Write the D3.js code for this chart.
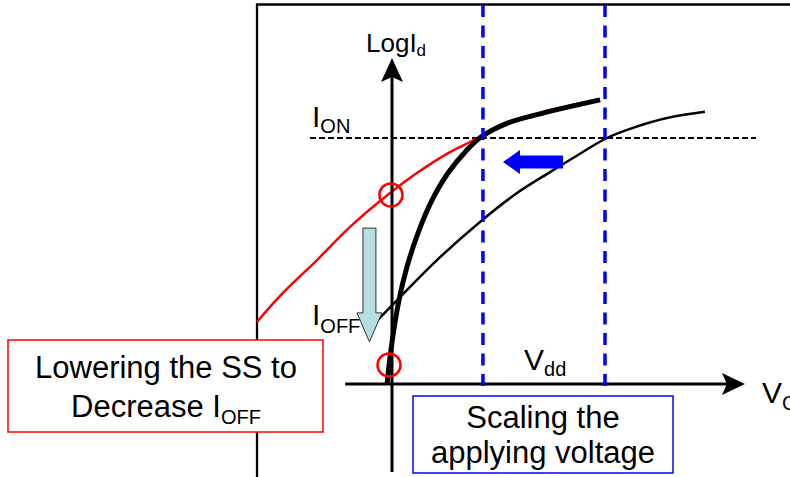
<!DOCTYPE html>
<html>
<head>
<meta charset="utf-8">
<script src="https://cdn.jsdelivr.net/npm/d3@7"></script>
<style>
  body { margin: 0; background: #fff; }
  svg { display: block; }
  text { font-family: "Liberation Sans", Arial, sans-serif; fill: #000; }
</style>
</head>
<body>
<script>
// x in units of the old Vdd, y in decades of Id above the axis
var steepCurve = [[-0.023,0],[-0.005,1.11],[0.033,2.73],[0.070,3.80],[0.122,4.91],[0.188,5.98],
  [0.263,6.86],[0.352,7.61],[0.418,8.03],[0.545,8.49],[0.709,8.81],[0.977,9.24]];
var redCurve = [[-0.634,2.02],[-0.512,2.96],[-0.352,4.03],[-0.197,5.11],[-0.009,6.21],[0.117,6.86],
  [0.272,7.54],[0.366,7.87],[0.418,8.07],[0.545,8.52],[0.709,8.85],[0.967,9.25]];
var oldCurve = [[-0.089,1.92],[0.047,2.89],[0.211,4.03],[0.413,5.27],[0.587,6.21],[0.742,6.89],
  [0.850,7.35],[1.009,8.00],[1.131,8.33],[1.291,8.65],[1.469,8.85]];
var vddLevels = [0.427, 1.0];
var ionLevel = 8;
var circles = [[-0.005,6.15],[-0.014,0.62]];
var shiftArrow = [0.803, 0.521, 7.22];   // from, to, level
var ioffArrow = [-0.106, 5.07, 1.37];    // x, from, to
var xAxisRange = [-0.22, 1.657];
var yAxisRange = [-2.86, 10.6];

var W = 790, H = 477;
var x = d3.scaleLinear().domain([0, 1]).range([392, 605]);
var y = d3.scaleLinear().domain([0, 8]).range([384, 138]);

var svg = d3.select("body").append("svg").attr("width", W).attr("height", H);

// frame
svg.append("path").attr("d", "M257," + H + " V4.5 H" + W)
  .attr("fill", "none").attr("stroke", "#000").attr("stroke-width", 2.3);

var line = d3.line().x(d => x(d[0])).y(d => y(d[1])).curve(d3.curveCatmullRom.alpha(0.5));

// Ion level
svg.append("line").attr("x1", 310).attr("x2", 756)
  .attr("y1", y(ionLevel)).attr("y2", y(ionLevel))
  .attr("stroke", "#000").attr("stroke-width", 2).attr("stroke-dasharray", "6,3");

svg.append("path").attr("d", line(redCurve)).attr("fill", "none")
  .attr("stroke", "#ff0000").attr("stroke-width", 2.5);
svg.append("path").attr("d", line(oldCurve)).attr("fill", "none")
  .attr("stroke", "#000").attr("stroke-width", 2.5);
svg.append("path").attr("d", line(steepCurve)).attr("fill", "none")
  .attr("stroke", "#000").attr("stroke-width", 5).attr("stroke-linecap", "butt");

// axes
var x0 = x(0), y0 = y(0);
var yTop = y(yAxisRange[1]), xEnd = x(xAxisRange[1]);
svg.append("line").attr("x1", x0).attr("x2", x0).attr("y1", y(yAxisRange[0])).attr("y2", yTop + 10)
  .attr("stroke", "#000").attr("stroke-width", 3);
svg.append("path").attr("d", "M" + x0 + "," + yTop + " L" + (x0 - 11) + "," + (yTop + 24) +
    " L" + x0 + "," + (yTop + 19) + " L" + (x0 + 11) + "," + (yTop + 24) + "Z").attr("fill", "#000");
svg.append("line").attr("x1", x(xAxisRange[0])).attr("x2", xEnd - 10).attr("y1", y0).attr("y2", y0)
  .attr("stroke", "#000").attr("stroke-width", 3);
svg.append("path").attr("d", "M" + xEnd + "," + y0 + " L" + (xEnd - 23) + "," + (y0 - 11) +
    " L" + (xEnd - 18) + "," + y0 + " L" + (xEnd - 23) + "," + (y0 + 11) + "Z").attr("fill", "#000");

// Vdd lines
svg.selectAll(".vdd").data(vddLevels).enter().append("line").attr("class", "vdd")
  .attr("x1", d => x(d)).attr("x2", d => x(d)).attr("y1", 5).attr("y2", y(-0.2))
  .attr("stroke", "#0000ff").attr("stroke-width", 3.5).attr("stroke-dasharray", "12,8.5");

// red markers
svg.selectAll(".mark").data(circles).enter().append("circle").attr("class", "mark")
  .attr("cx", d => x(d[0])).attr("cy", d => y(d[1])).attr("r", 11.5)
  .attr("fill", "none").attr("stroke", "#ff0000").attr("stroke-width", 2.5);

// blue shift arrow
var ax0 = x(shiftArrow[0]), ax1 = x(shiftArrow[1]), ay = y(shiftArrow[2]);
svg.append("path").attr("d", "M" + ax1 + "," + ay + " L" + (ax1 + 17) + "," + (ay - 12) +
    " V" + (ay - 6.5) + " H" + ax0 + " V" + (ay + 6.5) + " H" + (ax1 + 17) + " V" + (ay + 12) + "Z")
  .attr("fill", "#0000ff");

// labels
function label(px, py, main, sub, size, subSize, dy, anchor) {
  var t = svg.append("text").attr("x", px).attr("y", py).attr("font-size", size)
    .attr("text-anchor", anchor || "start");
  t.append("tspan").text(main);
  if (sub) t.append("tspan").attr("font-size", subSize).attr("dy", dy).text(sub);
  return t;
}
label(366, 52, "LogI", "d", 26, 17, 4);
label(312, 127, "I", "ON", 30, 20, 6);
label(312, 325, "I", "OFF", 30, 20, 8);
label(524, 370, "V", "dd", 30, 20, 6);
label(762, 403, "V", "G", 30, 20, 7);

// Ioff arrow
var bx = x(ioffArrow[0]), by0 = y(ioffArrow[1]), by1 = y(ioffArrow[2]);
svg.append("path").attr("d", "M" + (bx - 6.5) + "," + by0 + " H" + (bx + 6.5) + " V" + (by1 - 29) +
    " H" + (bx + 12.5) + " L" + bx + "," + by1 + " L" + (bx - 12.5) + "," + (by1 - 29) +
    " H" + (bx - 6.5) + "Z")
  .attr("fill", "#b6dde0").attr("stroke", "#333").attr("stroke-width", 1);

// boxes
svg.append("rect").attr("x", 8).attr("y", 340).attr("width", 315).attr("height", 92)
  .attr("fill", "#fff").attr("stroke", "#ff0000").attr("stroke-width", 1.5);
svg.append("text").attr("x", 166).attr("y", 378).attr("font-size", 31)
  .attr("text-anchor", "middle").text("Lowering the SS to");
label(166, 417, "Decrease I", "OFF", 31, 20, 7, "middle");

svg.append("rect").attr("x", 413).attr("y", 396).attr("width", 260).attr("height", 77)
  .attr("fill", "#fff").attr("stroke", "#0000ff").attr("stroke-width", 1.5);
svg.append("text").attr("x", 543).attr("y", 428).attr("font-size", 31)
  .attr("text-anchor", "middle").text("Scaling the");
svg.append("text").attr("x", 543).attr("y", 463).attr("font-size", 31)
  .attr("text-anchor", "middle").text("applying voltage");
</script>
</body>
</html>
